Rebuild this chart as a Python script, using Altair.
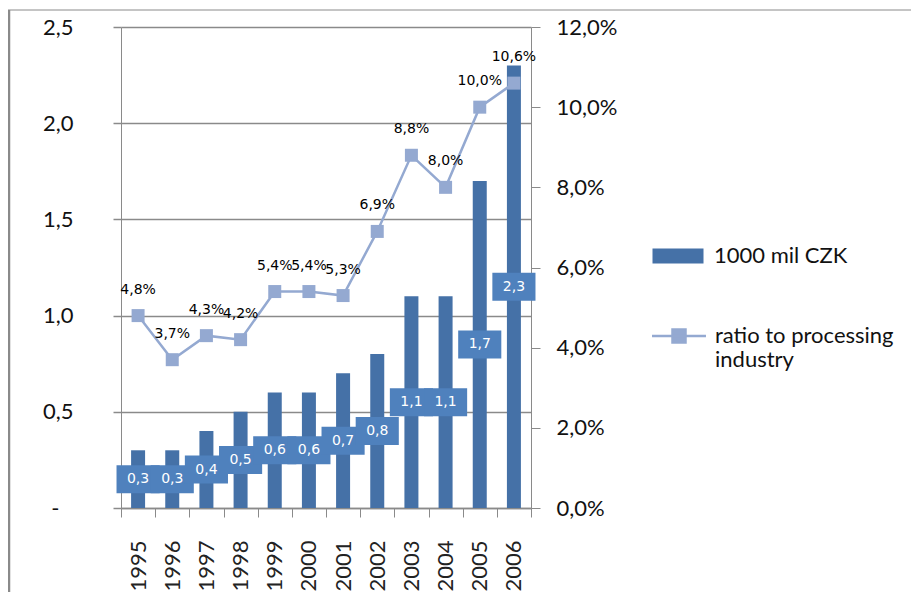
import altair as alt
import pandas as pd

# ---- data ----
years = ["1995", "1996", "1997", "1998", "1999", "2000", "2001", "2002", "2003", "2004", "2005", "2006"]
values = [0.3, 0.3, 0.4, 0.5, 0.6, 0.6, 0.7, 0.8, 1.1, 1.1, 1.7, 2.3]
ratios = [4.8, 3.7, 4.3, 4.2, 5.4, 5.4, 5.3, 6.9, 8.8, 8.0, 10.0, 10.6]
bar_series = "1000 mil CZK"
line_series = "ratio to processing industry"
left_ticks = [0, 0.5, 1.0, 1.5, 2.0, 2.5]
right_ticks = [0, 2, 4, 6, 8, 10, 12]

df = pd.DataFrame({"year": years, "value": values, "ratio": ratios})
df["mid"] = df["value"] / 2
df["vlabel"] = [f"{v:.1f}".replace(".", ",") for v in values]
df["rlabel"] = [f"{r:.1f}".replace(".", ",") + "%" for r in ratios]
df["s_bar"] = bar_series
df["s_line"] = line_series

BAR = "#4571A7"
BOX = "#4F81BD"
LINE = "#94A9D1"
GRAY = "#8a8a8a"
FONT = "Lato"
SMALL = "DejaVu Sans"

W, H = 410, 481

x = alt.X(
    "year:N",
    sort=years,
    scale=alt.Scale(paddingInner=0, paddingOuter=0),
    axis=alt.Axis(
        title=None, labelAngle=-90, labelFontSize=22, labelFont=FONT, labelColor="#222",
        tickBand="extent", tickSize=9, tickColor=GRAY, domainColor=GRAY, domainWidth=1.5,
        labelPadding=23,
    ),
)

left_axis = alt.Axis(
    title=None, values=left_ticks,
    labelExpr="datum.value == 0 ? '-' : replace(format(datum.value, '.1f'), '.', ',')",
    grid=True, gridColor=GRAY, gridWidth=1.5, domainColor=GRAY, tickColor=GRAY,
    tickSize=8, tickWidth=1.5,
    labelPadding={"condition": {"test": "datum.value == 0", "value": 54}, "value": 40},
    labelFontSize=22, labelFont=FONT, labelColor="#111",
)
left_scale = alt.Scale(domain=[0, 2.5], nice=False)
y_left = alt.Y("value:Q", scale=left_scale, axis=left_axis)
y_mid = alt.Y("mid:Q", scale=left_scale, axis=left_axis)

right_axis = alt.Axis(
    orient="right", title=None, values=right_ticks, grid=False,
    labelExpr="replace(format(datum.value, '.1f'), '.', ',') + '%'",
    domainColor=GRAY, tickColor=GRAY, tickSize=9, labelPadding=16,
    labelFontSize=22, labelFont=FONT, labelColor="#111",
)
right_scale = alt.Scale(domain=[0, 12], nice=False)
y_right = alt.Y("ratio:Q", scale=right_scale, axis=right_axis)

base = alt.Chart(df)

bars = base.mark_bar(size=14).encode(
    x=x,
    y=y_left,
    fill=alt.Fill(
        "s_bar:N",
        scale=alt.Scale(domain=[bar_series], range=[BAR]),
        legend=alt.Legend(
            title=None, orient="none", legendX=546, legendY=218, padding=0,
            symbolType="M-3.4,-1L3.4,-1L3.4,1L-3.4,1Z", symbolSize=225,
            symbolStrokeWidth=0, symbolOpacity=1,
            labelFontSize=22, labelFont=FONT, labelColor="#111", labelOffset=25, labelLimit=400,
        ),
    ),
)

boxes = base.mark_point(
    shape="M-1.54,-1L1.54,-1L1.54,1L-1.54,1Z", size=784, filled=True, opacity=1,
    color=BOX, strokeWidth=0,
).encode(x=x, y=y_mid)

box_text = base.mark_text(font=SMALL, fontSize=14, color="white").encode(
    x=x, y=y_mid, text="vlabel:N"
)

line = base.mark_line(strokeWidth=2.5).encode(
    x=x,
    y=y_right,
    stroke=alt.Stroke(
        "s_line:N",
        scale=alt.Scale(domain=[line_series], range=[LINE]),
        legend=alt.Legend(
            title=None, orient="none", legendX=547, legendY=298, padding=0,
            symbolType="M-4.15,0L4.15,0M-1,-1L1,-1L1,1L-1,1Z", symbolSize=169,
            symbolFillColor=LINE, symbolStrokeWidth=2.5, symbolOpacity=1,
            labelFontSize=22, labelFont=FONT, labelColor="#111", labelOffset=25, labelLimit=400,
            labelExpr="[slice(datum.label, 0, 19), slice(datum.label, 20)]",
        ),
    ),
)

points = base.mark_point(shape="square", size=169, filled=True, opacity=1, color=LINE).encode(
    x=x, y=y_right
)

line_labels = base.mark_text(font=SMALL, fontSize=14, color="#000", dy=-26).encode(
    x=x, y=y_right, text="rlabel:N",
)

frame_data = alt.Data(values=[{"k": 1}])
frame_left = alt.Chart(frame_data).mark_rule(color=GRAY, strokeWidth=2.5).encode(
    x=alt.value(-112), y=alt.value(-17), y2=alt.value(H + 84)
)
frame_top = alt.Chart(frame_data).mark_rule(color=GRAY, strokeWidth=1).encode(
    x=alt.value(-113), x2=alt.value(W + 380), y=alt.value(-17)
)

left_group = alt.layer(bars, boxes, box_text)
right_group = alt.layer(line, points, line_labels)

chart = (
    alt.layer(left_group, right_group, frame_left, frame_top)
    .resolve_scale(y="independent")
    .properties(
        width=W, height=H,
        autosize=alt.AutoSizeParams(type="none"),
        padding={"left": 113, "top": 19, "right": 380, "bottom": 84},
        background="white",
    )
    .configure_view(stroke=None)
)

chart.save("out.html", embed_options={"renderer": "svg", "actions": False})
